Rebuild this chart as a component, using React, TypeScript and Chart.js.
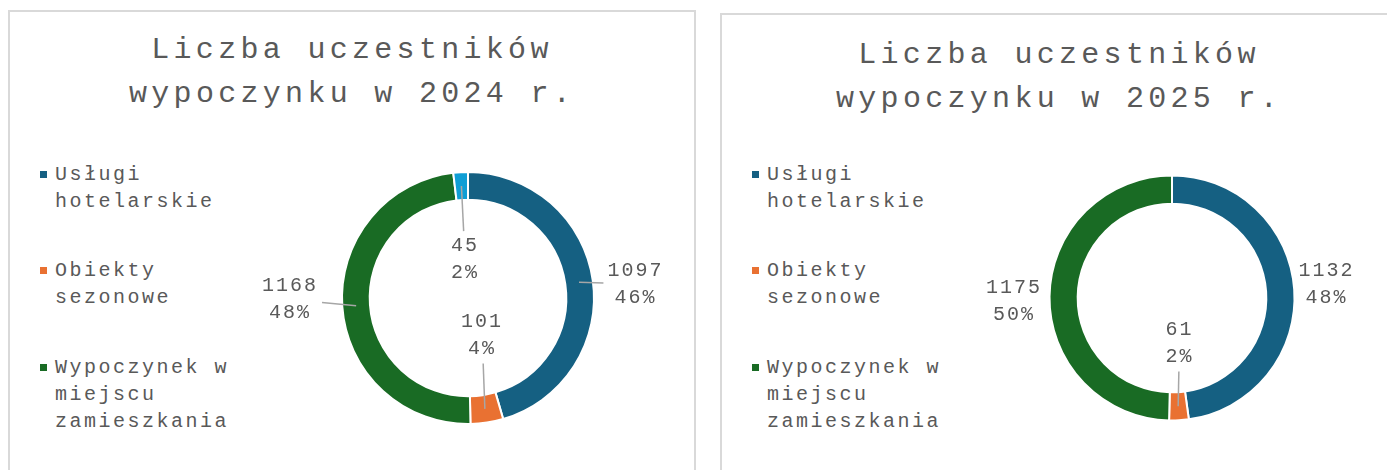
import React, { useEffect, useRef } from 'react';
import { Chart, registerables } from 'chart.js';

Chart.register(...registerables);

// ---------- DATA ----------
const categories = ['Usługi hotelarskie', 'Obiekty sezonowe', 'Wypoczynek w miejscu zamieszkania', ''];
const legendCategories = ['Usługi hotelarskie', 'Obiekty sezonowe', 'Wypoczynek w miejscu zamieszkania'];
const values2024 = [1097, 101, 1168, 45];
const percents2024 = ['46%', '4%', '48%', '2%'];
const values2025 = [1132, 61, 1175];
const percents2025 = ['48%', '2%', '50%'];
const title2024 = ['Liczba uczestników', 'wypoczynku w 2024 r.'];
const title2025 = ['Liczba uczestników', 'wypoczynku w 2025 r.'];

// ---------- STYLE ----------
const COLORS = ['#156082', '#E97132', '#196B24', '#0F9ED5'];
const FONT = "'Courier New', 'Liberation Mono', monospace";
const TEXT = '#595959';

type Place = { r: number; nudge: number; leader: boolean };
const place2024: Place[] = [
  { r: 168, nudge: 3.3, leader: true },
  { r: 40, nudge: -12, leader: true },
  { r: 178, nudge: 3.4, leader: true },
  { r: 39, nudge: -1, leader: true },
];
const place2025: Place[] = [
  { r: 155, nudge: -1, leader: false },
  { r: 46, nudge: -6, leader: true },
  { r: 158, nudge: -2, leader: false },
];

function makeLabelPlugin(percents: string[], place: Place[]) {
  return {
    id: 'dlabels',
    afterDatasetsDraw(chart: any) {
      const ctx = chart.ctx as CanvasRenderingContext2D;
      const meta = chart.getDatasetMeta(0);
      const vals = chart.data.datasets[0].data as number[];
      ctx.save();
      ctx.font = `20px ${FONT}`;
      (ctx as any).letterSpacing = '2px';
      ctx.textAlign = 'center';
      ctx.textBaseline = 'middle';
      meta.data.forEach((arc: any, i: number) => {
        const pl = place[i];
        if (!pl) return;
        const p = arc.getProps(['x', 'y', 'startAngle', 'endAngle', 'innerRadius', 'outerRadius'], true);
        const mid = (p.startAngle + p.endAngle) / 2;
        const a = mid + (pl.nudge * Math.PI) / 180;
        const cx = p.x + pl.r * Math.cos(a);
        const cy = p.y + pl.r * Math.sin(a);
        const l1 = String(vals[i]);
        const l2 = percents[i];
        const hw = Math.max(ctx.measureText(l1).width, ctx.measureText(l2).width) / 2 + 4;
        const hh = 28;
        if (pl.leader) {
          const rr = (p.innerRadius + p.outerRadius) / 2;
          const sx = p.x + rr * Math.cos(mid);
          const sy = p.y + rr * Math.sin(mid);
          const dx = sx - cx;
          const dy = sy - cy;
          const t = Math.min(dx ? hw / Math.abs(dx) : Infinity, dy ? hh / Math.abs(dy) : Infinity);
          if (t < 1) {
            ctx.beginPath();
            ctx.strokeStyle = '#A6A6A6';
            ctx.lineWidth = 1.5;
            ctx.moveTo(sx, sy);
            ctx.lineTo(cx + t * dx, cy + t * dy);
            ctx.stroke();
          }
        }
        ctx.fillStyle = TEXT;
        ctx.fillText(l1, cx, cy - 13.5);
        ctx.fillText(l2, cx, cy + 13.5);
      });
      ctx.restore();
    },
  };
}

type DonutProps = {
  values: number[];
  percents: string[];
  place: Place[];
  left: number;
  top: number;
  radius: number;
  cutout: string;
};

function Donut({ values, percents, place, left, top, radius, cutout }: DonutProps) {
  const ref = useRef<HTMLCanvasElement | null>(null);
  const W = 440;
  const H = 280;
  useEffect(() => {
    if (!ref.current) return;
    const side = 2 * radius + 2;
    const chart = new Chart(ref.current, {
      type: 'doughnut',
      data: {
        labels: categories.slice(0, values.length),
        datasets: [
          {
            data: values,
            backgroundColor: COLORS.slice(0, values.length),
            borderColor: '#ffffff',
            borderWidth: 2,
          },
        ],
      },
      options: {
        responsive: false,
        animation: false,
        cutout,
        layout: {
          padding: {
            left: (W - side) / 2,
            right: (W - side) / 2,
            top: (H - side) / 2,
            bottom: (H - side) / 2,
          },
        },
        plugins: {
          legend: { display: false },
          title: { display: false },
          tooltip: { enabled: false },
        },
      },
      plugins: [makeLabelPlugin(percents, place)],
    });
    return () => chart.destroy();
  }, []);
  return (
    <canvas
      ref={ref}
      width={W}
      height={H}
      style={{ position: 'absolute', left, top, width: W, height: H }}
    />
  );
}

type PanelProps = {
  x: number;
  y: number;
  width: number;
  titleTop: number;
  title: string[];
  values: number[];
  percents: string[];
  place: Place[];
  cx: number;
  cy: number;
  radius: number;
  cutout: string;
};

function Panel({ x, y, width, titleTop, title, values, percents, place, cx, cy, radius, cutout }: PanelProps) {
  return (
    <>
      <div
        style={{
          position: 'absolute',
          left: x,
          top: y,
          width,
          height: 520,
          border: '2px solid #D9D9D9',
          boxSizing: 'border-box',
          background: '#fff',
        }}
      />
      <div
        style={{
          position: 'absolute',
          left: x,
          top: titleTop,
          width,
          textAlign: 'center',
          fontFamily: FONT,
          fontSize: 30,
          letterSpacing: '4.3px',
          lineHeight: '44px',
          color: TEXT,
          whiteSpace: 'nowrap',
        }}
      >
        {title.map((t, i) => (
          <div key={i}>{t}</div>
        ))}
      </div>
      <div style={{ position: 'absolute', left: x + 32, top: 160.5 }}>
        {legendCategories.map((c, i) => (
          <div key={i} style={{ position: 'absolute', left: 0, top: i * 96.5, width: 220 }}>
            <div
              style={{
                position: 'absolute',
                left: 0,
                top: 10,
                width: 7,
                height: 7,
                background: COLORS[i],
              }}
            />
            <div
              style={{
                position: 'absolute',
                left: 15,
                top: 0,
                width: 185,
                fontFamily: FONT,
                fontSize: 20,
                letterSpacing: '2.5px',
                lineHeight: '27px',
                color: TEXT,
              }}
            >
              {c}
            </div>
          </div>
        ))}
      </div>
      <Donut
        values={values}
        percents={percents}
        place={place}
        left={cx - 220}
        top={cy - 140}
        radius={radius}
        cutout={cutout}
      />
    </>
  );
}

export default function App() {
  useEffect(() => {
    document.body.style.margin = '0';
  }, []);
  return (
    <div
      style={{
        position: 'relative',
        width: 1387,
        height: 470,
        overflow: 'hidden',
        background: '#fff',
      }}
    >
      <Panel
        x={8}
        y={10}
        width={688}
        titleTop={28}
        title={title2024}
        values={values2024}
        percents={percents2024}
        place={place2024}
        cx={468}
        cy={298}
        radius={126}
        cutout="78%"
      />
      <Panel
        x={720}
        y={13}
        width={678}
        titleTop={33}
        title={title2025}
        values={values2025}
        percents={percents2025}
        place={place2025}
        cx={1172}
        cy={298}
        radius={122.5}
        cutout="77%"
      />
    </div>
  );
}
